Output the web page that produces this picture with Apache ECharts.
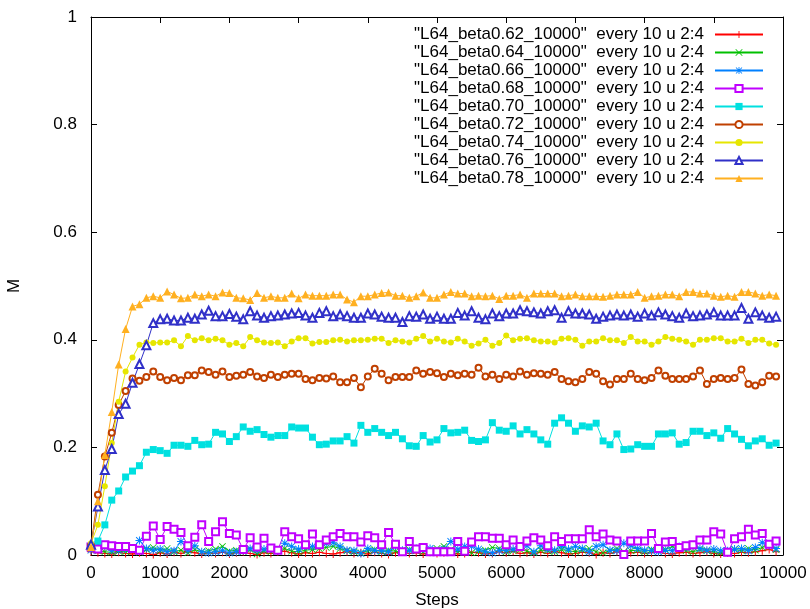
<!DOCTYPE html>
<html>
<head>
<meta charset="utf-8">
<script src="https://cdn.jsdelivr.net/npm/echarts@6/dist/echarts.min.js"></script>
<style>
html,body{margin:0;padding:0;background:#fff;}
#chart{width:810px;height:609px;}
</style>
</head>
<body>
<div id="chart"></div>
<script>
const steps = [0,100,200,300,400,500,600,700,800,900,1000,1100,1200,1300,1400,1500,1600,1700,1800,1900,2000,2100,2200,2300,2400,2500,2600,2700,2800,2900,3000,3100,3200,3300,3400,3500,3600,3700,3800,3900,4000,4100,4200,4300,4400,4500,4600,4700,4800,4900,5000,5100,5200,5300,5400,5500,5600,5700,5800,5900,6000,6100,6200,6300,6400,6500,6600,6700,6800,6900,7000,7100,7200,7300,7400,7500,7600,7700,7800,7900,8000,8100,8200,8300,8400,8500,8600,8700,8800,8900,9000,9100,9200,9300,9400,9500,9600,9700,9800,9900];

const seriesNames = [
  '"L64_beta0.62_10000"  every 10 u 2:4',
  '"L64_beta0.64_10000"  every 10 u 2:4',
  '"L64_beta0.66_10000"  every 10 u 2:4',
  '"L64_beta0.68_10000"  every 10 u 2:4',
  '"L64_beta0.70_10000"  every 10 u 2:4',
  '"L64_beta0.72_10000"  every 10 u 2:4',
  '"L64_beta0.74_10000"  every 10 u 2:4',
  '"L64_beta0.76_10000"  every 10 u 2:4',
  '"L64_beta0.78_10000"  every 10 u 2:4'
];

const beta062 = [0.006,0.004,0.003,0.002,0.005,0.003,0.002,0.004,0.003,0.001,0.004,0.002,0.005,0.003,0.006,0.004,0.002,0.004,0.003,0.005,0.002,0.004,0.006,0.003,0.001,0.004,0.003,0.006,0.007,0.004,0.002,0.004,0.003,0.005,0.003,0.002,0.004,0.006,0.003,0.004,0.002,0.005,0.003,0.001,0.004,0.006,0.003,0.004,0.002,0.005,0.003,0.004,0.006,0.002,0.003,0.005,0.004,0.002,0.003,0.006,0.004,0.007,0.003,0.004,0.002,0.005,0.003,0.006,0.004,0.002,0.003,0.005,0.004,0.001,0.004,0.003,0.006,0.002,0.004,0.005,0.003,0.004,0.006,0.003,0.002,0.004,0.005,0.003,0.004,0.006,0.003,0.002,0.004,0.003,0.005,0.004,0.006,0.008,0.010,0.006];

const beta064 = [0.012,0.008,0.006,0.005,0.007,0.006,0.008,0.005,0.010,0.014,0.008,0.012,0.006,0.009,0.004,0.010,0.006,0.008,0.011,0.016,0.007,0.009,0.006,0.010,0.002,0.008,0.006,0.009,0.012,0.007,0.006,0.009,0.010,0.012,0.014,0.016,0.012,0.008,0.006,0.004,0.008,0.010,0.006,0.009,0.007,0.005,0.010,0.008,0.006,0.009,0.012,0.016,0.010,0.006,0.008,0.004,0.006,0.009,0.014,0.012,0.006,0.008,0.010,0.007,0.004,0.009,0.008,0.006,0.010,0.008,0.006,0.009,0.012,0.006,0.004,0.008,0.012,0.006,0.008,0.009,0.006,0.010,0.012,0.010,0.016,0.012,0.008,0.006,0.010,0.008,0.006,0.004,0.008,0.010,0.008,0.012,0.009,0.014,0.018,0.010];

const beta066 = [0.009,0.019,0.016,0.009,0.009,0.011,0.012,0.027,0.012,0.009,0.011,0.006,0.008,0.025,0.009,0.017,0.006,0.004,0.006,0.008,0.004,0.006,0.008,0.012,0.009,0.011,0.012,0.008,0.022,0.016,0.011,0.016,0.016,0.019,0.022,0.023,0.016,0.009,0.008,0.003,0.012,0.008,0.008,0.006,0.016,0.009,0.008,0.012,0.011,0.012,0.008,0.011,0.025,0.011,0.016,0.016,0.011,0.006,0.004,0.008,0.009,0.011,0.016,0.017,0.006,0.017,0.011,0.009,0.016,0.011,0.016,0.012,0.006,0.016,0.019,0.009,0.008,0.022,0.017,0.012,0.009,0.008,0.006,0.009,0.008,0.016,0.014,0.016,0.012,0.009,0.011,0.008,0.008,0.011,0.012,0.008,0.014,0.023,0.017,0.012];

const beta068 = [0.015,0.011,0.019,0.017,0.016,0.016,0.012,0.009,0.035,0.054,0.029,0.053,0.048,0.042,0.017,0.033,0.056,0.025,0.043,0.062,0.040,0.037,0.010,0.032,0.015,0.031,0.013,0.009,0.043,0.034,0.030,0.019,0.039,0.019,0.028,0.034,0.040,0.034,0.034,0.024,0.036,0.032,0.019,0.042,0.020,0.006,0.025,0.011,0.014,0.006,0.006,0.006,0.006,0.025,0.007,0.024,0.034,0.034,0.031,0.031,0.019,0.028,0.016,0.026,0.032,0.028,0.017,0.034,0.025,0.030,0.030,0.030,0.047,0.034,0.039,0.028,0.026,0.001,0.026,0.026,0.026,0.040,0.012,0.024,0.025,0.014,0.017,0.019,0.028,0.028,0.043,0.039,0.005,0.030,0.034,0.048,0.037,0.040,0.020,0.026];

const beta070 = [0.015,0.026,0.056,0.102,0.119,0.145,0.156,0.166,0.191,0.196,0.194,0.189,0.204,0.204,0.202,0.213,0.205,0.206,0.228,0.225,0.211,0.220,0.238,0.230,0.233,0.224,0.219,0.222,0.222,0.238,0.236,0.236,0.219,0.205,0.206,0.212,0.212,0.220,0.208,0.241,0.228,0.235,0.228,0.222,0.228,0.216,0.203,0.202,0.222,0.210,0.214,0.235,0.227,0.228,0.232,0.213,0.211,0.214,0.246,0.232,0.230,0.240,0.225,0.233,0.225,0.214,0.206,0.245,0.255,0.245,0.230,0.240,0.238,0.245,0.212,0.205,0.225,0.196,0.197,0.205,0.202,0.202,0.225,0.225,0.227,0.206,0.209,0.230,0.230,0.222,0.227,0.217,0.235,0.225,0.215,0.203,0.212,0.216,0.204,0.208];

const beta072 = [0.017,0.112,0.183,0.227,0.279,0.305,0.328,0.324,0.331,0.341,0.331,0.325,0.329,0.325,0.334,0.334,0.343,0.340,0.335,0.341,0.331,0.333,0.335,0.340,0.332,0.329,0.335,0.331,0.335,0.337,0.337,0.327,0.325,0.329,0.328,0.332,0.321,0.321,0.329,0.312,0.332,0.346,0.337,0.325,0.331,0.331,0.331,0.343,0.337,0.340,0.338,0.331,0.337,0.334,0.337,0.335,0.348,0.332,0.335,0.327,0.335,0.332,0.341,0.335,0.338,0.337,0.335,0.340,0.327,0.323,0.321,0.327,0.340,0.337,0.323,0.317,0.327,0.327,0.337,0.327,0.325,0.329,0.343,0.333,0.327,0.327,0.327,0.332,0.343,0.318,0.327,0.329,0.327,0.329,0.345,0.318,0.315,0.321,0.333,0.332];

const beta074 = [0.022,0.056,0.128,0.208,0.285,0.341,0.367,0.391,0.395,0.394,0.395,0.395,0.399,0.388,0.407,0.399,0.403,0.399,0.402,0.399,0.391,0.394,0.388,0.405,0.399,0.395,0.394,0.395,0.388,0.397,0.403,0.403,0.393,0.396,0.396,0.399,0.400,0.397,0.399,0.399,0.400,0.402,0.402,0.394,0.399,0.397,0.395,0.402,0.407,0.397,0.402,0.397,0.395,0.402,0.397,0.389,0.393,0.400,0.389,0.394,0.408,0.399,0.402,0.403,0.399,0.397,0.397,0.395,0.402,0.403,0.400,0.389,0.397,0.397,0.403,0.399,0.399,0.394,0.405,0.397,0.397,0.391,0.397,0.405,0.402,0.400,0.397,0.391,0.400,0.400,0.403,0.403,0.397,0.397,0.402,0.394,0.400,0.400,0.393,0.391];

const beta076 = [0.019,0.090,0.158,0.197,0.262,0.281,0.320,0.355,0.390,0.431,0.438,0.439,0.436,0.436,0.441,0.439,0.447,0.454,0.444,0.444,0.448,0.443,0.438,0.453,0.445,0.441,0.444,0.445,0.447,0.449,0.450,0.445,0.441,0.450,0.453,0.444,0.447,0.444,0.441,0.441,0.449,0.447,0.443,0.441,0.441,0.433,0.444,0.443,0.447,0.439,0.443,0.439,0.439,0.450,0.445,0.453,0.441,0.438,0.449,0.444,0.449,0.449,0.455,0.453,0.451,0.449,0.453,0.455,0.441,0.453,0.449,0.449,0.447,0.439,0.443,0.445,0.447,0.445,0.447,0.443,0.449,0.445,0.451,0.447,0.444,0.441,0.449,0.444,0.445,0.447,0.451,0.445,0.445,0.445,0.459,0.439,0.451,0.445,0.441,0.443];

const beta078 = [0.015,0.100,0.186,0.266,0.354,0.420,0.462,0.466,0.478,0.481,0.478,0.490,0.484,0.477,0.478,0.484,0.481,0.484,0.481,0.488,0.487,0.478,0.477,0.474,0.487,0.478,0.481,0.478,0.478,0.486,0.477,0.484,0.482,0.482,0.482,0.484,0.484,0.475,0.470,0.481,0.481,0.484,0.487,0.488,0.482,0.482,0.478,0.481,0.488,0.478,0.478,0.484,0.489,0.486,0.486,0.481,0.482,0.481,0.482,0.476,0.482,0.482,0.484,0.478,0.486,0.486,0.486,0.486,0.481,0.482,0.484,0.481,0.481,0.481,0.480,0.482,0.484,0.484,0.484,0.489,0.478,0.481,0.482,0.484,0.484,0.481,0.489,0.489,0.486,0.486,0.482,0.480,0.482,0.480,0.489,0.489,0.486,0.482,0.484,0.482];

const xTicks = [0,1000,2000,3000,4000,5000,6000,7000,8000,9000,10000];
const yTicks = [0,0.2,0.4,0.6,0.8,1];

const allValues = [beta062,beta064,beta066,beta068,beta070,beta072,beta074,beta076,beta078];
const colors = ['#ff0000','#00c000','#0080ff','#c000ff','#00e0e0','#c04000','#e6e600','#3030c8','#ffb020'];
const plus = 'path://M0,4.4H10V5.6H0Z M4.4,0H5.6V10H4.4Z';
const cross = 'path://M0.8,0L5,4.2L9.2,0L10,0.8L5.8,5L10,9.2L9.2,10L5,5.8L0.8,10L0,9.2L4.2,5L0,0.8Z';
const star = 'path://M0,4.4H10V5.6H0Z M4.4,0H5.6V10H4.4Z M1.2,0.4L5,4.2L8.8,0.4L9.6,1.2L5.8,5L9.6,8.8L8.8,9.6L5,5.8L1.2,9.6L0.4,8.8L4.2,5L0.4,1.2Z';
const symbols = [plus, cross, star, 'emptyRect', 'rect', 'emptyCircle', 'circle', 'emptyTriangle', 'triangle'];
const sizes = [8, 7, 8, 7, 7, 6, 6, 8, 8];

const series = allValues.map((vals, i) => ({
  name: seriesNames[i],
  type: 'line',
  data: steps.map((s, k) => [s, vals[k]]),
  symbol: symbols[i],
  symbolSize: sizes[i],
  showAllSymbol: true,
  symbolKeepAspect: true,
  color: colors[i],
  lineStyle: { width: 1, color: colors[i] },
  itemStyle: { color: colors[i], borderColor: colors[i], borderWidth: (symbols[i].indexOf('empty') === 0) ? 1 : 0 },
  emphasis: { disabled: true },
  animation: false,
  xAxisIndex: 0,
  yAxisIndex: 0
}));

const chart = echarts.init(document.getElementById('chart'), null, { renderer: 'canvas' });
const font = 'Liberation Sans, Arial, sans-serif';
const frameLine = { show: true, onZero: false, lineStyle: { color: '#000', width: 1 } };
chart.setOption({
  animation: false,
  backgroundColor: '#fff',
  textStyle: { fontFamily: font },
  grid: { left: 91, right: 27, top: 17, bottom: 54, containLabel: false, outerBoundsMode: 'none' },
  legend: {
    orient: 'vertical',
    right: 41,
    top: 21,
    align: 'right',
    itemWidth: 48,
    itemHeight: 9,
    itemGap: 1,
    selectedMode: false,
    textStyle: { fontSize: 17, color: '#000', fontFamily: font, padding: [0, 6, 0, 0] },
    data: seriesNames
  },
  xAxis: [
    {
      type: 'value', min: xTicks[0], max: xTicks[xTicks.length - 1], interval: xTicks[1] - xTicks[0],
      position: 'bottom',
      name: 'Steps', nameLocation: 'middle', nameGap: 37,
      nameTextStyle: { fontSize: 17, color: '#000', fontFamily: font },
      axisLine: frameLine,
      axisTick: { show: true, inside: true, length: 6, lineStyle: { color: '#000' } },
      axisLabel: { fontSize: 17, color: '#000', margin: 10, fontFamily: font, formatter: v => String(v) },
      splitLine: { show: false }
    },
    {
      type: 'value', min: xTicks[0], max: xTicks[xTicks.length - 1], interval: xTicks[1] - xTicks[0],
      position: 'top',
      axisLine: frameLine,
      axisTick: { show: true, inside: true, length: 6, lineStyle: { color: '#000' } },
      axisLabel: { show: false },
      splitLine: { show: false }
    }
  ],
  yAxis: [
    {
      type: 'value', min: yTicks[0], max: yTicks[yTicks.length - 1], interval: yTicks[1] - yTicks[0],
      position: 'left',
      name: 'M', nameLocation: 'middle', nameGap: 68,
      nameTextStyle: { fontSize: 17, color: '#000', fontFamily: font },
      axisLine: frameLine,
      axisTick: { show: true, inside: true, length: 6, lineStyle: { color: '#000' } },
      axisLabel: { fontSize: 17, color: '#000', margin: 14, fontFamily: font },
      splitLine: { show: false }
    },
    {
      type: 'value', min: yTicks[0], max: yTicks[yTicks.length - 1], interval: yTicks[1] - yTicks[0],
      position: 'right',
      axisLine: frameLine,
      axisTick: { show: true, inside: true, length: 6, lineStyle: { color: '#000' } },
      axisLabel: { show: false },
      splitLine: { show: false }
    }
  ],
  series: series
});
</script>
</body>
</html>
